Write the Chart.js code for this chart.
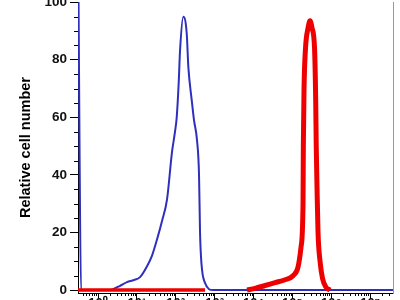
<!DOCTYPE html>
<html>
<head>
<meta charset="utf-8">
<script src="https://cdn.jsdelivr.net/npm/chart.js@4.4.1/dist/chart.umd.min.js"></script>
<style>
  html, body { margin: 0; padding: 0; background: #fff; }
  #wrap { position: relative; width: 400px; height: 300px; overflow: hidden; background: #fff; }
  #c { position: absolute; left: 0; top: 0; }
</style>
</head>
<body>
<div id="wrap"><canvas id="c" width="400" height="326"></canvas></div>
<script>
// x values are in decades (log10 of fluorescence)
const blueX = [-0.515, -0.476, -0.437, 0.309, 0.386, 0.566, 0.746, 0.926, 1.081, 1.261, 1.390, 1.518, 1.647, 1.776, 1.904, 1.981, 2.025, 2.076, 2.110, 2.195, 2.283, 2.324, 2.411, 2.470, 2.548, 2.599, 2.625, 2.663, 2.753, 2.959, 7.59];
const blueY = [130, 50, 0, 0, 0.3, 1.5, 2.8, 3.5, 4.5, 8.3, 12, 17.6, 24, 31.5, 48, 55, 60, 72, 83, 94.9, 89, 77.5, 66, 59, 52, 40, 20, 9, 2.5, 0, 0];

const redX = [-0.515, 2.753, 2.8, 3.834, 4.040, 4.297, 4.555, 4.812, 5.018, 5.146, 5.224, 5.275, 5.283, 5.301, 5.339, 5.404, 5.455, 5.507, 5.571, 5.602, 5.615, 5.636, 5.661, 5.713, 5.777, 5.867, 5.970];
const redY = [0, 0, null, 0, 0.6, 1.6, 2.6, 3.6, 5, 8, 15, 30, 50, 70, 84, 91, 93.5, 91, 84, 65, 50, 35, 20, 10, 4, 1, 0];

const xTickLabels = ['10⁰', '10¹', '10²', '10³', '10⁴', '10⁵', '10⁶', '10⁷'];
const yTicks = [0, 20, 40, 60, 80, 100];

const xMin = -0.515, xMax = 7.59;

// minor tick positions
const xMinor = [];
for (let k = -1; k <= 7; k++) {
    for (let m = 2; m <= 9; m++) {
        const v = k + Math.log10(m);
        if (v > xMin && v < xMax) xMinor.push(v);
    }
}
const yMinor = [];
for (let v = 5; v < 100; v += 5) {
    if (v % 20 !== 0) yMinor.push(v);
}

const minorTicks = {
    id: 'minorTicks',
    afterDraw(chart) {
        const { ctx, scales: { x, y } } = chart;
        ctx.save();
        ctx.strokeStyle = '#000';
        ctx.lineWidth = 1;
        ctx.beginPath();
        yMinor.forEach(v => {
            const py = Math.round(y.getPixelForValue(v)) + 0.5;
            ctx.moveTo(y.right - 4, py);
            ctx.lineTo(y.right, py);
        });
        xMinor.forEach(v => {
            const px = Math.round(x.getPixelForValue(v)) + 0.5;
            ctx.moveTo(px, x.top);
            ctx.lineTo(px, x.top + 3);
        });
        ctx.stroke();
        ctx.restore();
    }
};

const font = 'Liberation Sans, Arial, Helvetica, sans-serif';

const chart = new Chart(document.getElementById('c'), {
    type: 'line',
    data: {
        datasets: [
            {
                label: 'Stained',
                data: redX.map((x, i) => ({ x: x, y: redY[i] })),
                borderColor: '#ee0000',
                borderWidth: 5,
                borderCapStyle: 'butt',
                borderJoinStyle: 'miter',
                segment: {
                    borderWidth: ctx => (ctx.p0.parsed.y === 0 && ctx.p1.parsed.y === 0) ? 3.5 : 5
                },
                pointRadius: 0,
                fill: false,
                cubicInterpolationMode: 'monotone',
                spanGaps: false
            },
            {
                label: 'Control',
                data: blueX.map((x, i) => ({ x: x, y: blueY[i] })),
                borderColor: '#2f2fbd',
                borderWidth: 2,
                pointRadius: 0,
                fill: false,
                cubicInterpolationMode: 'monotone'
            }
        ]
    },
    options: {
        responsive: false,
        animation: false,
        layout: { padding: { top: 10, right: 7, left: 0, bottom: 0 } },
        plugins: {
            legend: { display: false },
            tooltip: { enabled: false }
        },
        scales: {
            x: {
                type: 'linear',
                min: xMin,
                max: xMax,
                afterBuildTicks: scale => {
                    scale.ticks = xTickLabels.map((l, i) => ({ value: i }));
                },
                afterFit: scale => { scale.height = 24; },
                ticks: {
                    autoSkip: false,
                    maxRotation: 0,
                    padding: -3,
                    color: '#111',
                    font: { family: font, size: 13, weight: 'bold' },
                    callback: v => xTickLabels[Math.round(v)]
                },
                grid: { drawOnChartArea: false, tickLength: 6, tickColor: '#000' },
                border: { color: '#000', width: 1 }
            },
            y: {
                min: -1,
                max: 100,
                afterBuildTicks: scale => {
                    scale.ticks = yTicks.map(v => ({ value: v }));
                },
                afterFit: scale => { scale.width = 78; },
                ticks: {
                    padding: 3,
                    color: '#111',
                    font: { family: font, size: 13.5, weight: 'bold' }
                },
                grid: { drawOnChartArea: false, tickLength: 8, tickColor: '#000' },
                border: { color: '#000', width: 1 },
                title: {
                    display: true,
                    text: 'Relative cell number',
                    color: '#000',
                    font: { family: font, size: 14.5, weight: 'bold' },
                    padding: { top: 17, bottom: 0 }
                }
            },
            y2: {
                position: 'right',
                min: -1,
                max: 100,
                afterFit: scale => { scale.width = 0; },
                ticks: { display: false },
                grid: { display: false },
                border: { display: true, color: '#999', width: 1 }
            }
        }
    },
    plugins: [minorTicks]
});

// shift canvas so the plot top sits at the top edge like the reference
document.getElementById('c').style.top = (2 - chart.chartArea.top) + 'px';
</script>
</body>
</html>
